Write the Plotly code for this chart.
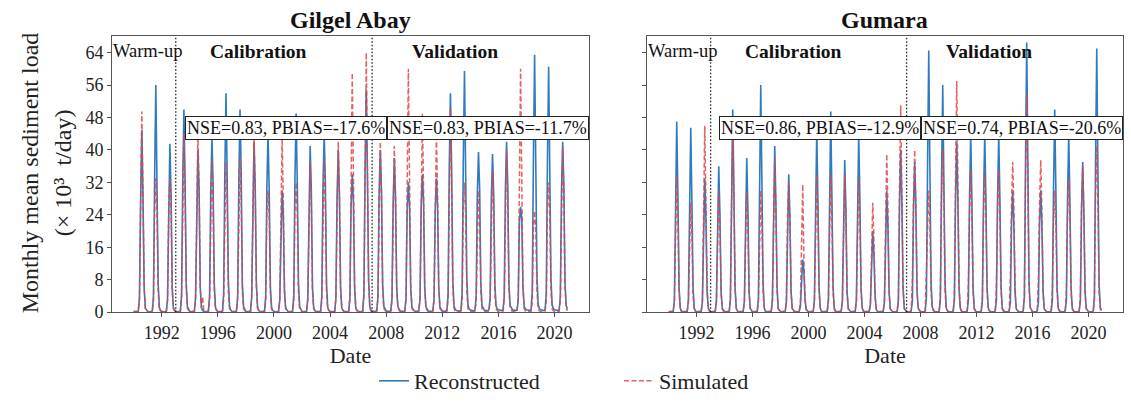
import pandas as pd
import plotly.graph_objects as go

# ---------------- data (monthly values, x10^3 t/day), rows = years 1990..2020, cols = Jan..Dec
years = list(range(1990, 2021))
tick_years = [1992, 1996, 2000, 2004, 2008, 2012, 2016, 2020]
y_ticks = [0, 8, 16, 24, 32, 40, 48, 56, 64]

gilgel_reconstructed = [
    [0.2,0.1,0.1,0.1,0.2,3.5,27,45,28,6,1.0,0.4],
    [0.2,0.1,0.1,0.1,0.3,4.0,33,56,31,7,1.2,0.4],
    [0.2,0.1,0.1,0.1,0.2,3.2,30,41.5,29,6,1.0,0.4],
    [0.2,0.1,0.1,0.1,0.3,4.2,31,50,32,7,1.3,0.5],
    [0.2,0.1,0.1,0.1,0.2,3.6,29,40,30,6,1.1,0.4],
    [0.2,0.1,0.1,0.1,0.3,4.0,30,43,31,7,1.2,0.4],
    [0.2,0.1,0.1,0.1,0.3,4.5,34,54,33,8,1.4,0.5],
    [0.2,0.1,0.1,0.1,0.3,4.1,32,50,34,7,1.3,0.5],
    [0.2,0.1,0.1,0.1,0.2,3.8,30,42,31,7,1.2,0.4],
    [0.2,0.1,0.1,0.1,0.3,3.9,31,44,29,6,1.1,0.4],
    [0.2,0.1,0.1,0.1,0.2,3.0,22,30,24,5,1.0,0.4],
    [0.2,0.1,0.1,0.1,0.3,4.2,33,49,31,7,1.3,0.5],
    [0.2,0.1,0.1,0.1,0.2,3.6,29,41,30,6,1.1,0.4],
    [0.2,0.1,0.1,0.1,0.3,3.9,31,44,32,7,1.2,0.4],
    [0.2,0.1,0.1,0.1,0.2,3.5,28,40,29,6,1.1,0.4],
    [0.2,0.1,0.1,0.1,0.2,3.2,26,34,27,6,1.0,0.4],
    [0.2,0.1,0.1,0.1,0.3,4.6,35,55,33,8,1.4,0.5],
    [0.3,0.2,0.2,0.2,0.4,3.8,29,40,30,7,1.4,0.6],
    [0.3,0.2,0.2,0.2,0.4,3.5,27,38,28,6,1.3,0.6],
    [0.3,0.2,0.2,0.2,0.4,3.2,25,32,26,6,1.2,0.6],
    [0.3,0.2,0.2,0.2,0.4,3.3,26,34,27,6,1.3,0.6],
    [0.3,0.2,0.2,0.2,0.4,3.3,25,33,26,6,1.2,0.6],
    [0.3,0.2,0.2,0.2,0.5,4.5,36,54,35,8,1.6,0.7],
    [0.4,0.3,0.3,0.3,0.5,4.8,37,59.5,34,8,1.7,0.8],
    [0.5,0.4,0.3,0.3,0.5,3.8,29,39.5,30,7,1.6,0.8],
    [0.5,0.4,0.4,0.4,0.6,3.7,28,39,29,7,1.6,0.8],
    [0.6,0.5,0.4,0.4,0.6,3.9,30,42,31,7,1.7,0.9],
    [0.6,0.5,0.4,0.4,0.6,3.0,22,26,23,6,1.5,0.8],
    [0.6,0.5,0.4,0.4,0.7,5.0,38,63.5,36,9,1.9,0.9],
    [0.6,0.5,0.4,0.4,0.7,4.8,37,60.5,34,8,1.8,0.9],
    [0.6,0.5,0.4,0.4,0.6,3.9,30,42,31,7,1.6,0.8],
]

gilgel_simulated = [
    [0.1,0.1,0.1,0.1,0.2,3.0,30,49.5,30,6,0.9,0.3],
    [0.1,0.1,0.1,0.1,0.2,2.8,25,33,24,5,0.8,0.3],
    [0.1,0.1,0.1,0.1,0.2,2.9,26,33,25,5,0.8,0.3],
    [0.1,0.1,0.1,0.1,0.2,3.2,30,44,29,6,0.9,0.3],
    [0.1,0.1,0.1,0.1,0.2,3.3,31,44,30,6,1.0,3.8],
    [0.5,0.1,0.1,0.1,0.2,3.0,28,38,27,5,0.8,0.3],
    [0.1,0.1,0.1,0.1,0.2,3.0,27,37,27,5,0.8,0.3],
    [0.1,0.1,0.1,0.1,0.2,3.0,28,38,27,5,0.8,0.3],
    [0.1,0.1,0.1,0.1,0.2,3.3,31,44,29,6,0.9,0.3],
    [0.1,0.1,0.1,0.1,0.2,2.8,24,30,23,5,0.8,0.3],
    [0.1,0.1,0.1,0.1,0.2,3.2,30,43,28,6,0.9,0.3],
    [0.1,0.1,0.1,0.1,0.2,2.8,25,32,24,5,0.8,0.3],
    [0.1,0.1,0.1,0.1,0.2,3.0,27,37,26,5,0.8,0.3],
    [0.1,0.1,0.1,0.1,0.2,3.0,28,38,27,5,0.8,0.3],
    [0.1,0.1,0.1,0.1,0.2,3.2,30,42,29,6,0.9,0.3],
    [0.1,0.1,0.1,0.1,0.2,3.8,36,59,33,7,1.0,0.3],
    [0.1,0.1,0.1,0.1,0.2,4.0,38,64,35,7,1.1,0.3],
    [0.1,0.1,0.1,0.1,0.2,3.2,30,42,29,6,0.9,0.3],
    [0.1,0.1,0.1,0.1,0.2,3.1,29,41,28,6,0.9,0.3],
    [0.1,0.1,0.1,0.1,0.2,3.8,36,60,33,7,1.0,0.3],
    [0.1,0.1,0.1,0.1,0.2,3.4,32,49,30,6,0.9,0.3],
    [0.1,0.1,0.1,0.1,0.2,3.3,31,44,29,6,0.9,0.3],
    [0.1,0.1,0.1,0.1,0.2,3.5,33,50.5,31,6,1.0,0.3],
    [0.1,0.1,0.1,0.1,0.2,2.8,25,32,24,5,0.8,0.3],
    [0.1,0.1,0.1,0.1,0.2,2.6,22,30,21,5,0.8,0.3],
    [0.1,0.1,0.1,0.1,0.2,2.9,26,35,25,5,0.8,0.3],
    [0.1,0.1,0.1,0.1,0.2,3.1,29,40,27,6,0.9,0.3],
    [0.1,0.1,0.1,0.1,0.2,3.8,36,60,33,7,1.0,0.3],
    [0.1,0.1,0.1,0.1,0.2,2.5,21,25,20,5,0.8,0.3],
    [0.1,0.1,0.1,0.1,0.2,2.8,25,32,24,5,0.8,0.3],
    [0.1,0.1,0.1,0.1,0.2,3.1,29,41,28,6,0.9,0.3],
]

gumara_reconstructed = [
    [0.1,0.1,0.1,0.1,0.2,3.0,30,47,28,6,1.0,0.3],
    [0.1,0.1,0.1,0.1,0.2,3.0,29,45.5,27,6,1.0,0.3],
    [0.1,0.1,0.1,0.1,0.2,2.6,24,33,23,5,0.9,0.3],
    [0.1,0.1,0.1,0.1,0.2,2.7,25,36,24,5,0.9,0.3],
    [0.1,0.1,0.1,0.1,0.2,3.2,31,50,29,6,1.0,0.3],
    [0.1,0.1,0.1,0.1,0.2,2.8,26,38,25,5,0.9,0.3],
    [0.1,0.1,0.1,0.1,0.2,3.5,33,56,31,7,1.1,0.3],
    [0.1,0.1,0.1,0.1,0.2,2.9,27,41,26,6,0.9,0.3],
    [0.1,0.1,0.1,0.1,0.2,2.6,24,34,23,5,0.9,0.3],
    [0.1,0.1,0.1,0.1,0.2,1.5,9,13,10,3,0.6,0.2],
    [0.1,0.1,0.1,0.1,0.2,3.0,28,45,27,6,1.0,0.3],
    [0.1,0.1,0.1,0.1,0.2,3.2,30,49.5,28,6,1.0,0.3],
    [0.1,0.1,0.1,0.1,0.2,2.8,26,37.5,25,5,0.9,0.3],
    [0.1,0.1,0.1,0.1,0.2,3.0,28,44,27,6,1.0,0.3],
    [0.1,0.1,0.1,0.1,0.2,2.0,15,20,14,4,0.7,0.2],
    [0.1,0.1,0.1,0.1,0.2,2.4,22,30,21,5,0.8,0.3],
    [0.1,0.1,0.1,0.1,0.3,2.9,27,40,26,6,0.9,0.3],
    [0.1,0.1,0.1,0.1,0.3,2.8,26,37,25,5,0.9,0.3],
    [0.1,0.1,0.1,0.1,0.3,3.8,36,64.5,34,7,1.2,0.4],
    [0.1,0.1,0.1,0.1,0.3,3.5,33,56,31,7,1.1,0.3],
    [0.1,0.1,0.1,0.1,0.3,3.0,28,42,27,6,1.0,0.3],
    [0.1,0.1,0.1,0.1,0.3,3.0,28,44,27,6,1.0,0.3],
    [0.1,0.1,0.1,0.1,0.3,3.0,28,44,27,6,1.0,0.3],
    [0.1,0.1,0.1,0.1,0.3,3.0,28,44,27,6,1.0,0.3],
    [0.1,0.1,0.1,0.1,0.3,2.4,22,30,21,5,0.8,0.3],
    [0.1,0.1,0.1,0.1,0.3,3.9,37,66.5,35,7,1.2,0.4],
    [0.1,0.1,0.1,0.1,0.3,2.4,22,30,21,5,0.8,0.3],
    [0.1,0.1,0.1,0.1,0.3,3.2,31,50,29,6,1.0,0.3],
    [0.1,0.1,0.1,0.1,0.3,3.0,28,44,27,6,1.0,0.3],
    [0.1,0.1,0.1,0.1,0.3,2.7,25,37,24,5,0.9,0.3],
    [0.1,0.1,0.1,0.1,0.3,3.9,37,65,35,7,1.2,0.4],
]

gumara_simulated = [
    [0.1,0.1,0.1,0.1,0.2,2.6,24,34,23,5,0.8,0.2],
    [0.1,0.1,0.1,0.1,0.2,2.2,20,27,19,4,0.7,0.2],
    [0.1,0.1,0.1,0.1,0.2,3.0,29,46,27,6,0.9,0.2],
    [0.1,0.1,0.1,0.1,0.2,2.4,22,30,21,5,0.8,0.2],
    [0.1,0.1,0.1,0.1,0.2,3.1,30,48,28,6,0.9,0.2],
    [0.1,0.1,0.1,0.1,0.2,2.4,22,30,21,5,0.8,0.2],
    [0.1,0.1,0.1,0.1,0.2,2.4,22,30,21,5,0.8,0.2],
    [0.1,0.1,0.1,0.1,0.2,2.8,27,38,25,5,0.8,0.2],
    [0.1,0.1,0.1,0.1,0.2,2.5,24,32,22,5,0.8,0.2],
    [0.1,0.1,0.1,0.1,0.2,2.5,23,31.5,13,3,0.8,0.2],
    [0.1,0.1,0.1,0.1,0.2,2.6,24,34,23,5,0.8,0.2],
    [0.1,0.1,0.1,0.1,0.2,2.6,24,34,23,5,0.8,0.2],
    [0.1,0.1,0.1,0.1,0.2,2.6,24,34,23,5,0.8,0.2],
    [0.1,0.1,0.1,0.1,0.2,2.6,24,33,22,5,0.8,0.2],
    [0.1,0.1,0.1,0.1,0.2,2.2,19,27,18,4,0.7,0.2],
    [0.1,0.1,0.1,0.1,0.2,2.8,27,39,26,5,0.8,0.2],
    [0.1,0.1,0.1,0.1,0.3,3.2,31,51,29,6,0.9,0.3],
    [0.1,0.1,0.1,0.1,0.3,8.0,28,40,26,5,0.8,0.3],
    [0.1,0.1,0.1,0.1,0.3,12,24,30,22,5,0.8,0.3],
    [0.1,0.1,0.1,0.1,0.3,5.0,28,40,26,5,0.8,0.3],
    [0.1,0.1,0.1,0.1,0.3,3.5,33,57,31,6,1.0,0.3],
    [0.1,0.1,0.1,0.1,0.3,7.0,25,35,24,5,0.8,0.3],
    [0.1,0.1,0.1,0.1,0.3,4.0,25,35,24,5,0.8,0.3],
    [0.1,0.1,0.1,0.1,0.3,6.0,25,35,24,5,0.8,0.3],
    [0.1,0.1,0.1,0.1,0.3,9.0,27,37,25,5,0.8,0.3],
    [0.1,0.1,0.1,0.1,0.3,3.4,32,54,30,6,1.0,0.3],
    [0.1,0.1,0.1,0.1,0.3,8.0,27,37.5,25,5,0.8,0.3],
    [0.1,0.1,0.1,0.1,0.3,6.0,22,30,21,5,0.8,0.3],
    [0.1,0.1,0.1,0.1,0.3,5.0,24,33,23,5,0.8,0.3],
    [0.1,0.1,0.1,0.1,0.3,4.0,26,36,24,5,0.8,0.3],
    [0.1,0.1,0.1,0.1,0.3,3.0,29,41,27,5,0.8,0.3],
]

period_bounds = ["1993-01-01", "2007-01-01"]
stats_labels = {
    "Gilgel Abay": ["NSE=0.83, PBIAS=-17.6%", "NSE=0.83, PBIAS=-11.7%"],
    "Gumara": ["NSE=0.86, PBIAS=-12.9%", "NSE=0.74, PBIAS=-20.6%"],
}

# ---------------- build
dates = pd.date_range(f"{years[0]}-01-01", periods=12 * len(years), freq="MS")
flat = lambda rows: [v for r in rows for v in r]

W, H = 1131, 402
H_EFF = 393  # observed effective vertical extent of the photographed page
FONT = "Liberation Serif, Times New Roman, serif"
BLUE = "#2f7bbf"
RED = "rgba(222,70,70,0.85)"
AXC = "#555555"

def px(x):
    return x / W

def py(y):
    return 1 - y / H_EFF

fig = go.Figure()
panels = [
    ("Gilgel Abay", gilgel_reconstructed, gilgel_simulated, "x", "y", (112, 589)),
    ("Gumara", gumara_reconstructed, gumara_simulated, "x2", "y2", (647, 1123)),
]

for i, (name, rec, sim, xa, ya, _) in enumerate(panels):
    fig.add_trace(go.Scatter(x=dates, y=flat(rec), mode="lines", name="Reconstructed",
                             line=dict(color=BLUE, width=1.6), xaxis=xa, yaxis=ya,
                             showlegend=(i == 0), legendgroup="rec"))
    fig.add_trace(go.Scatter(x=dates, y=flat(sim), mode="lines", name="Simulated",
                             line=dict(color=RED, width=1.5, dash="5px,2.5px"), xaxis=xa, yaxis=ya,
                             showlegend=(i == 0), legendgroup="sim"))

xrange = ["1988-06-16", "2022-06-17"]
yrange = [0, 68]
top_px, bot_px = 37, 317

axis_common = dict(showline=True, mirror=True, linecolor=AXC, linewidth=1, ticks="outside",
                   ticklen=4, tickcolor=AXC, showgrid=False, zeroline=False,
                   tickfont=dict(family=FONT, size=18, color="#222"))

layout = dict(
    width=W, height=H, paper_bgcolor="white", plot_bgcolor="white",
    margin=dict(l=0, r=0, t=0, b=0),
    font=dict(family=FONT, color="#222"),
    legend=dict(orientation="h", x=px(374), xanchor="left", y=py(387), yanchor="middle",
                font=dict(family=FONT, size=22, color="#222"), bgcolor="rgba(0,0,0,0)",
                entrywidth=200, entrywidthmode="pixels"),
)
for i, (name, rec, sim, xa, ya, (x0, x1)) in enumerate(panels):
    xk = "xaxis" if i == 0 else "xaxis2"
    yk = "yaxis" if i == 0 else "yaxis2"
    layout[xk] = dict(axis_common, domain=[px(x0), px(x1)], anchor=ya, type="date",
                      range=xrange, tickvals=[f"{y}-01-01" for y in tick_years],
                      ticktext=[str(y) for y in tick_years],
                      title=dict(text="Date", font=dict(family=FONT, size=22, color="#222"), standoff=2))
    layout[yk] = dict(axis_common, domain=[py(bot_px), py(top_px)], anchor=xa, range=yrange,
                      tickvals=y_ticks, showticklabels=(i == 0))
fig.update_layout(**layout)

shapes = []
annotations = []
ann = dict(showarrow=False, xanchor="center", yanchor="middle")
for i, (name, rec, sim, xa, ya, (x0, x1)) in enumerate(panels):
    for b in period_bounds:
        shapes.append(dict(type="line", xref=xa, yref=f"{ya} domain", x0=b, x1=b, y0=0, y1=1,
                           line=dict(color="#222", width=1.3, dash="1.5px,2px")))
    annotations.append(dict(ann, text=f"<b>{name}</b>", xref="paper", yref="paper",
                            x=px((x0 + x1) / 2), y=py(20),
                            font=dict(family=FONT, size=24, color="#111")))
    annotations.append(dict(ann, text="Warm-up", xref=xa, yref=ya, x=xrange[0], y=64.3,
                            xanchor="left", xshift=-1,
                            font=dict(family=FONT, size=18.5, color="#111")))
    annotations.append(dict(ann, text="<b>Calibration</b>", xref=xa, yref=ya, x="1998-12-01", y=64.3,
                            font=dict(family=FONT, size=19.5, color="#111")))
    annotations.append(dict(ann, text="<b>Validation</b>", xref=xa, yref=ya, x="2012-12-01", y=64.3,
                            font=dict(family=FONT, size=19.5, color="#111")))
    for lab, xc in zip(stats_labels[name], ["2000-11-01", "2015-04-01"]):
        annotations.append(dict(ann, text=lab, xref=xa, yref=ya, x=xc, y=45.3,
                                bgcolor="white", bordercolor="#222", borderwidth=1, borderpad=1,
                                font=dict(family=FONT, size=18, color="#111")))

annotations.append(dict(ann, text="Monthly mean sediment load", xref="paper", yref="paper",
                        x=px(30), y=py(176), textangle=-90,
                        font=dict(family=FONT, size=24, color="#222")))
annotations.append(dict(ann, text="(× 10³  t/day)", xref="paper", yref="paper",
                        x=px(63), y=py(176), textangle=-90,
                        font=dict(family=FONT, size=24, color="#222")))

fig.update_layout(shapes=shapes, annotations=annotations)
fig.write_html(
    "out.html",
    config={"displayModeBar": False},
    post_script=(
        "document.documentElement.style.margin='0px';"
        "document.documentElement.style.overflow='hidden';"
        "document.body.style.margin='0px';"
        "document.body.style.overflow='hidden';"
    ),
)
